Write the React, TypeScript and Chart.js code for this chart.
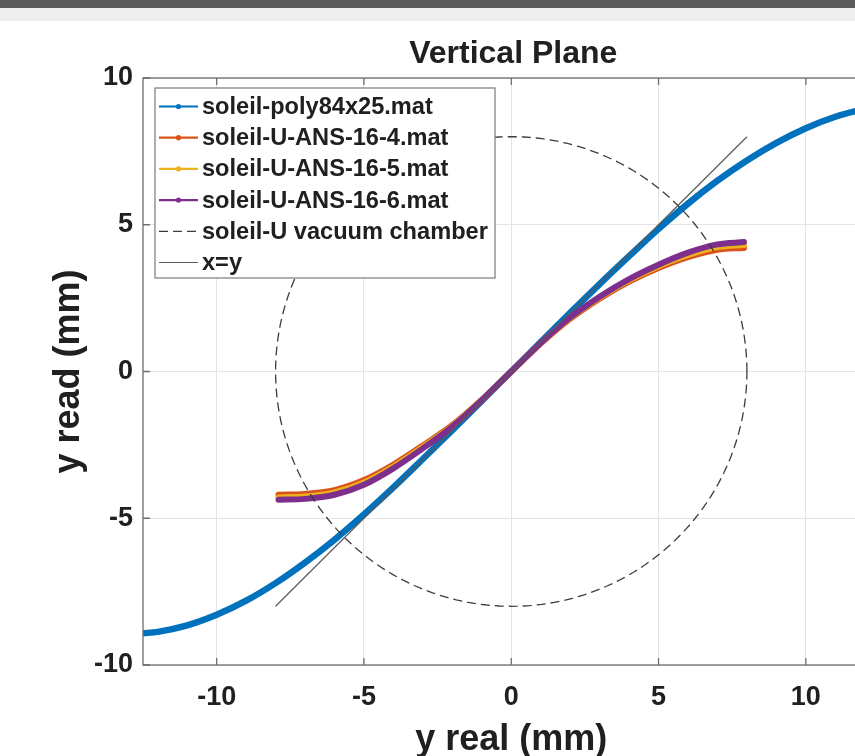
import React, { useEffect, useRef } from "react";
import { Chart, registerables } from "chart.js";

Chart.register(...registerables);

// ---------- data ----------
const TITLE = "Vertical Plane";
const X_LABEL = "y real (mm)";
const Y_LABEL = "y read (mm)";
const TICKS = [-10, -5, 0, 5, 10];
const X_MIN = -12.5;
const X_MAX = 12.5;
const Y_MIN = -10;
const Y_MAX = 10;

const SERIES_NAMES = [
  "soleil-poly84x25.mat",
  "soleil-U-ANS-16-4.mat",
  "soleil-U-ANS-16-5.mat",
  "soleil-U-ANS-16-6.mat",
  "soleil-U vacuum chamber",
  "x=y",
];

const POLY_X = [-12.5, -12, -11, -10, -9, -8, -7, -6, -5, -4, -3, -2, -1, 0, 1, 2, 3, 4, 5, 6, 7, 8, 9, 10, 11, 12, 12.5];
const POLY_Y = [-8.92, -8.87, -8.65, -8.29, -7.81, -7.21, -6.51, -5.73, -4.87, -3.95, -2.98, -2.0, -1.0, 0, 1.0, 2.0, 2.98, 3.93, 4.86, 5.72, 6.5, 7.19, 7.79, 8.29, 8.68, 8.95, 9.04];

const ANS_X = [-7.9, -7, -6, -5, -4, -3, -2, -1, 0, 1, 2, 3, 4, 5, 6, 7, 7.9];
const ANS4_Y = [-4.2, -4.17, -4.04, -3.7, -3.17, -2.52, -1.82, -0.96, 0, 0.95, 1.79, 2.48, 3.06, 3.53, 3.9, 4.15, 4.21];
const ANS5_Y = [-4.29, -4.26, -4.12, -3.78, -3.24, -2.57, -1.85, -0.97, 0, 0.96, 1.82, 2.52, 3.11, 3.59, 3.97, 4.24, 4.31];
const ANS6_Y = [-4.37, -4.34, -4.2, -3.86, -3.3, -2.62, -1.88, -0.98, 0, 0.97, 1.84, 2.55, 3.15, 3.64, 4.05, 4.33, 4.41];

// vacuum chamber: circle of radius 8 mm centred on the origin
const CHAMBER_RADIUS = 8;
const CHAMBER_SAMPLES = 240;

// x = y reference line end points
const IDENTITY_X = [-8, 8];

// ---------- styles ----------
const COLORS = ["#0072BD", "#D95319", "#EDB120", "#7E2F8E", "#3c3c3c", "#5a5a5a"];
const FONT = '"Liberation Sans", Arial, Helvetica, sans-serif';
const TEXT = "#202020";
const AXIS = "#6e6e6e";
const GRID = "#e4e4e4";

const zip = (xs: number[], ys: number[]) => xs.map((x, i) => ({ x, y: ys[i] }));

const chamberPoints = () => {
  const pts: { x: number; y: number }[] = [];
  for (let i = 0; i <= CHAMBER_SAMPLES; i++) {
    const t = (i / CHAMBER_SAMPLES) * Math.PI * 2;
    pts.push({ x: CHAMBER_RADIUS * Math.cos(t), y: CHAMBER_RADIUS * Math.sin(t) });
  }
  return pts;
};

const framePlugin = {
  id: "matlabFrame",
  afterDatasetsDraw(chart: any) {
    const { ctx, chartArea, scales } = chart;
    const { left, top, right, bottom } = chartArea;
    ctx.save();
    ctx.strokeStyle = AXIS;
    ctx.lineWidth = 1.3;
    ctx.strokeRect(left, top, right - left, bottom - top);
    ctx.beginPath();
    TICKS.forEach((v) => {
      const px = scales.x.getPixelForValue(v);
      ctx.moveTo(px, bottom);
      ctx.lineTo(px, bottom - 7);
      ctx.moveTo(px, top);
      ctx.lineTo(px, top + 7);
      const py = scales.y.getPixelForValue(v);
      ctx.moveTo(left, py);
      ctx.lineTo(left + 7, py);
      ctx.moveTo(right, py);
      ctx.lineTo(right - 7, py);
    });
    ctx.stroke();

    ctx.fillStyle = TEXT;
    ctx.font = `bold 32px ${FONT}`;
    ctx.textAlign = "center";
    ctx.textBaseline = "alphabetic";
    ctx.fillText(TITLE, (left + right) / 2 + 2, top - 15);
    ctx.restore();
  },
  afterDraw(chart: any) {
    const { ctx, chartArea } = chart;
    const bx = chartArea.left + 12;
    const by = chartArea.top + 10;
    const bw = 340;
    const bh = 190;
    ctx.save();
    ctx.fillStyle = "#ffffff";
    ctx.fillRect(bx, by, bw, bh);
    ctx.strokeStyle = "#7a7a7a";
    ctx.lineWidth = 1.2;
    ctx.strokeRect(bx, by, bw, bh);
    chart.data.datasets.forEach((ds: any, i: number) => {
      const cy = by + 18.5 + i * 31.2;
      const x0 = bx + 4;
      const x1 = bx + 43;
      ctx.strokeStyle = ds.borderColor;
      ctx.lineWidth = i < 4 ? 2.2 : 1.2;
      ctx.setLineDash(ds.borderDash || []);
      ctx.beginPath();
      ctx.moveTo(x0, cy);
      ctx.lineTo(x1, cy);
      ctx.stroke();
      ctx.setLineDash([]);
      if (i < 4) {
        ctx.fillStyle = ds.borderColor;
        ctx.beginPath();
        ctx.arc((x0 + x1) / 2, cy, 2.6, 0, Math.PI * 2);
        ctx.fill();
      }
      ctx.fillStyle = TEXT;
      ctx.font = `bold 23.6px ${FONT}`;
      ctx.textAlign = "left";
      ctx.textBaseline = "middle";
      ctx.fillText(ds.label, bx + 47, cy + 1);
    });
    ctx.restore();
  },
};

export default function App() {
  const ref = useRef<HTMLCanvasElement | null>(null);

  useEffect(() => {
    document.body.style.margin = "0";
    document.body.style.overflow = "hidden";
    if (!ref.current) return;
    const curve = (i: number, pts: any[], width: number) => ({
      label: SERIES_NAMES[i],
      data: pts,
      showLine: true,
      borderColor: COLORS[i],
      backgroundColor: COLORS[i],
      borderWidth: width,
      pointRadius: 0,
      cubicInterpolationMode: "monotone" as const,
      order: 10 - i,
      borderCapStyle: "round" as const,
      borderJoinStyle: "round" as const,
    });
    const chart = new Chart(ref.current, {
      type: "scatter",
      data: {
        datasets: [
          curve(0, zip(POLY_X, POLY_Y), 6.5),
          curve(1, zip(ANS_X, ANS4_Y), 6),
          curve(2, zip(ANS_X, ANS5_Y), 6),
          curve(3, zip(ANS_X, ANS6_Y), 6),
          {
            label: SERIES_NAMES[4],
            data: chamberPoints(),
            showLine: true,
            borderColor: COLORS[4],
            backgroundColor: COLORS[4],
            borderWidth: 1.3,
            borderDash: [9, 5],
            pointRadius: 0,
            tension: 0,
            order: 2,
          },
          {
            label: SERIES_NAMES[5],
            data: zip(IDENTITY_X, IDENTITY_X),
            showLine: true,
            borderColor: COLORS[5],
            backgroundColor: COLORS[5],
            borderWidth: 1.2,
            pointRadius: 0,
            order: 1,
          },
        ],
      },
      options: {
        animation: false,
        responsive: false,
        layout: { padding: { top: 78, right: 20.5, left: 0, bottom: 0 } },
        plugins: {
          legend: { display: false },
          title: { display: false },
          tooltip: { enabled: false },
        },
        scales: {
          x: {
            type: "linear",
            min: X_MIN,
            max: X_MAX,
            afterBuildTicks: (s: any) => {
              s.ticks = TICKS.map((v) => ({ value: v }));
            },
            afterFit: (s: any) => {
              s.height = 91;
            },
            grid: { color: GRID, drawTicks: false, lineWidth: 1 },
            border: { display: false },
            ticks: {
              font: { size: 27, weight: "bold", family: FONT },
              color: TEXT,
              padding: 16,
              maxRotation: 0,
            },
            title: {
              display: true,
              text: X_LABEL,
              color: TEXT,
              font: { size: 36, weight: "bold", family: FONT, lineHeight: 1 },
              padding: { top: 0, bottom: -2 },
            },
          },
          y: {
            type: "linear",
            min: Y_MIN,
            max: Y_MAX,
            afterBuildTicks: (s: any) => {
              s.ticks = TICKS.map((v) => ({ value: v }));
            },
            afterFit: (s: any) => {
              s.width = 143;
            },
            grid: { color: GRID, drawTicks: false, lineWidth: 1 },
            border: { display: false },
            ticks: {
              font: { size: 27, weight: "bold", family: FONT },
              color: TEXT,
              padding: 10,
            },
            title: {
              display: true,
              text: Y_LABEL,
              color: TEXT,
              font: { size: 36, weight: "bold", family: FONT, lineHeight: 1 },
              padding: { top: 51, bottom: 0 },
            },
          },
        },
      },
      plugins: [framePlugin],
    });
    return () => chart.destroy();
  }, []);

  return (
    <div
      style={{
        position: "relative",
        width: 855,
        height: 756,
        overflow: "hidden",
        background: "#ffffff",
      }}
    >
      <div style={{ position: "absolute", left: 0, top: 0, width: 855, height: 8, background: "#5b5b5b" }} />
      <div style={{ position: "absolute", left: 0, top: 8, width: 855, height: 13, background: "#eeeeee" }} />
      <canvas
        ref={ref}
        width={900}
        height={756}
        style={{ position: "absolute", left: 0, top: 0, width: 900, height: 756 }}
      />
    </div>
  );
}
